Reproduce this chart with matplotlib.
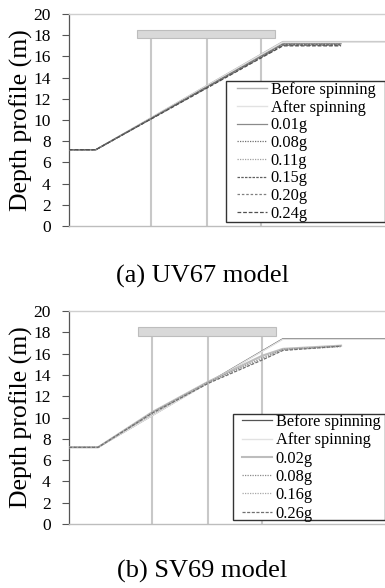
import matplotlib
matplotlib.use("Agg")
import matplotlib.pyplot as plt
from matplotlib.patches import Rectangle

plt.rcParams['font.family'] = ['Liberation Serif', 'DejaVu Serif']

# ---------------- data ----------------
yticks = [0, 2, 4, 6, 8, 10, 12, 14, 16, 18, 20]

# panel (a) UV67
a_labels = ["Before spinning", "After spinning", "0.01g", "0.08g", "0.11g", "0.15g", "0.20g", "0.24g"]
a_x_full = [0, 8.5, 67.7, 100]
a_x_short = [0, 8.5, 67.7, 86.1]
a_before = [7.2, 7.2, 17.4, 17.4]
a_after = [7.2, 7.2, 17.35, 17.35]
a_001 = [7.2, 7.2, 17.2, 17.2]
a_008 = [7.2, 7.2, 17.15, 17.15]
a_011 = [7.2, 7.2, 17.1, 17.1]
a_015 = [7.2, 7.2, 17.1, 17.1]
a_020 = [7.2, 7.2, 17.05, 17.05]
a_024 = [7.2, 7.2, 17.0, 17.0]
a_bar_x = [21.5, 65.2]
a_piles = [25.9, 43.7, 60.8]

# panel (b) SV69
b_labels = ["Before spinning", "After spinning", "0.02g", "0.08g", "0.16g", "0.26g"]
b_x_full = [0, 9.2, 67.7, 100]
b_x_curve = [0, 9.2, 26.3, 44.0, 61.1, 67.7, 86.1]
b_before = [7.2, 7.2, 17.4, 17.4]
b_after = [7.2, 7.2, 17.35, 17.35]
b_002 = [7.2, 7.2, 10.5, 13.35, 15.8, 16.45, 16.75]
b_008 = [7.2, 7.2, 10.45, 13.3, 15.6, 16.4, 16.7]
b_016 = [7.2, 7.2, 10.4, 13.25, 15.5, 16.35, 16.65]
b_026 = [7.2, 7.2, 10.4, 13.2, 15.4, 16.3, 16.7]
b_bar_x = [21.8, 65.5]
b_piles = [26.3, 44.0, 61.1]

bar_y = [17.7, 18.5]

fig = plt.figure(figsize=(3.85, 5.88), dpi=100)

def style_axes(ax):
    ax.set_xlim(0, 100)
    ax.set_ylim(0, 20)
    ax.set_yticks(yticks)
    ax.set_xticks([])
    ax.tick_params(axis='y', direction='out', length=5, width=0.8, color='#555555',
                   labelsize=12.5, pad=8)
    ax.spines['right'].set_visible(False)
    ax.spines['left'].set_color('#555555')
    ax.spines['left'].set_linewidth(0.9)
    ax.spines['top'].set_color('#cfcfcf')
    ax.spines['top'].set_linewidth(1.0)
    ax.spines['bottom'].set_color('#bdbdbd')
    ax.spines['bottom'].set_linewidth(1.0)
    ax.set_ylabel("Depth profile (m)", fontsize=18.5)
    ax.yaxis.set_label_coords(-0.114, 0.5)

def draw_structure(ax, bar_x, piles):
    for p in piles:
        ax.plot([p, p], [0, bar_y[0]], color='#c8c8c8', lw=1.5, zorder=1)
    ax.add_patch(Rectangle((bar_x[0], bar_y[0]), bar_x[1] - bar_x[0], bar_y[1] - bar_y[0],
                           facecolor='#d9d9d9', edgecolor='#bdbdbd', lw=0.8, zorder=2))

def legend_box(ax, x0, y0, x1, y1):
    ax.add_patch(Rectangle((x0, y0), x1 - x0, y1 - y0, transform=ax.transAxes,
                           facecolor='white', edgecolor='#333333', lw=1.0,
                           zorder=5, clip_on=False))

leg_kw = dict(fontsize=11.8, frameon=False, handlelength=1.85,
              handletextpad=0.2, borderpad=0.0, borderaxespad=0, loc='upper left')

# ---- panel (a)
ax1 = fig.add_axes([0.179, 0.6156, 0.821, 0.3605])
style_axes(ax1)
draw_structure(ax1, a_bar_x, a_piles)
ax1.plot(a_x_full, a_before, color='#b0b0b0', lw=1.0, label=a_labels[0], zorder=3)
ax1.plot(a_x_full, a_after, color='#e2e2e2', lw=1.0, label=a_labels[1], zorder=3)
ax1.plot(a_x_short, a_001, color='#8a8a8a', lw=0.9, label=a_labels[2], zorder=4)
ax1.plot(a_x_short, a_008, color='#707070', lw=0.9, ls=(0, (1, 1)), label=a_labels[3], zorder=4)
ax1.plot(a_x_short, a_011, color='#a0a0a0', lw=0.9, ls=(0, (1, 1)), label=a_labels[4], zorder=4)
ax1.plot(a_x_short, a_015, color='#606060', lw=0.9, ls=(0, (2, 1)), label=a_labels[5], zorder=4)
ax1.plot(a_x_short, a_020, color='#808080', lw=0.9, ls=(0, (2, 1.5)), label=a_labels[6], zorder=4)
ax1.plot(a_x_short, a_024, color='#505050', lw=0.9, ls=(0, (3, 1.5)), label=a_labels[7], zorder=4)
legend_box(ax1, (226 - 69) / 316, (226 - 222) / 212, 1.0, (226 - 81) / 212)
leg1 = ax1.legend(bbox_to_anchor=((237 - 69) / 316, (226 - 82) / 212), labelspacing=0.1, **leg_kw)
leg1.set_zorder(6)

# ---- panel (b)
ax2 = fig.add_axes([0.179, 0.1088, 0.821, 0.3622])
style_axes(ax2)
draw_structure(ax2, b_bar_x, b_piles)
ax2.plot(b_x_full, b_before, color='#555555', lw=0.9, label=b_labels[0], zorder=3)
ax2.plot(b_x_full, b_after, color='#e2e2e2', lw=1.0, label=b_labels[1], zorder=3)
ax2.plot(b_x_curve, b_002, color='#bdbdbd', lw=1.5, label=b_labels[2], zorder=4)
ax2.plot(b_x_curve, b_008, color='#8a8a8a', lw=0.9, ls=(0, (1, 1)), label=b_labels[3], zorder=4)
ax2.plot(b_x_curve, b_016, color='#a8a8a8', lw=0.9, ls=(0, (1, 1)), label=b_labels[4], zorder=4)
ax2.plot(b_x_curve, b_026, color='#707070', lw=0.9, ls=(0, (2.5, 1.2)), label=b_labels[5], zorder=4)
legend_box(ax2, (233 - 69) / 316, (524 - 520) / 213, 1.0, (524 - 414) / 213)
leg2 = ax2.legend(bbox_to_anchor=((242 - 69) / 316, (524 - 414) / 213), labelspacing=0.14, **leg_kw)
leg2.set_zorder(6)

# ---- captions
fig.text(203 / 385, 1 - 276 / 588, "(a) UV67 model", ha='center', va='center', fontsize=19)
fig.text(202 / 385, 1 - 571 / 588, "(b) SV69 model", ha='center', va='center', fontsize=19)

fig.savefig("out.png", dpi=100)
